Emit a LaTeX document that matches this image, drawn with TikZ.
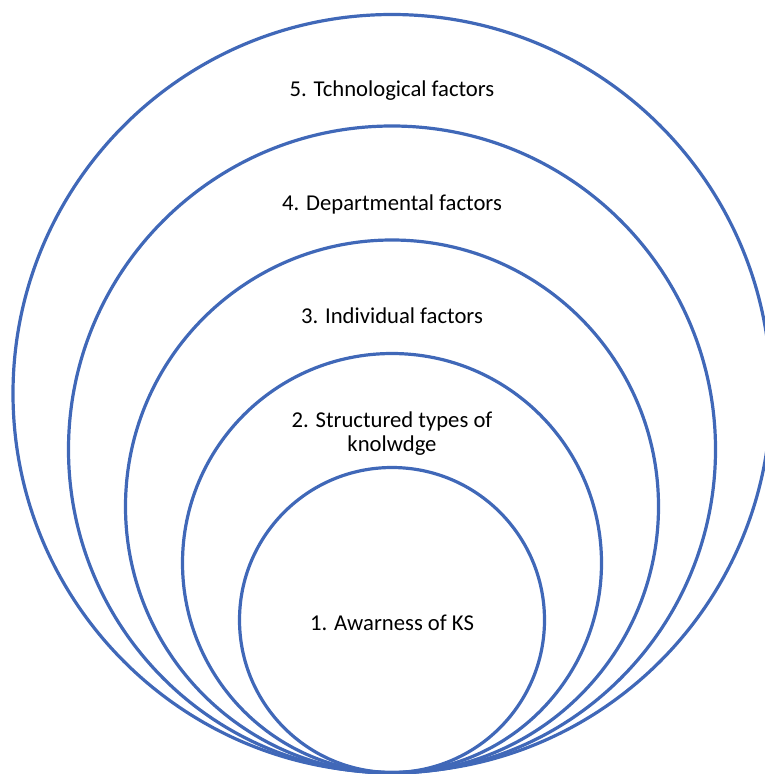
\documentclass[tikz,border=0pt]{standalone}
\usepackage{fontspec}
\setmainfont{Carlito}
\usepackage{tikz}
\usetikzlibrary{positioning,shapes}
\definecolor{ringblue}{RGB}{64,104,184}

\begin{document}
\begin{tikzpicture}[x=0.75pt,y=-0.75pt,font=\fontsize{17}{18}\selectfont]
            \tikzstyle{ring}=[circle, draw=ringblue, line width=2.4pt, inner sep=0pt]
            \tikzstyle{label}=[align=center, text=black]
            \useasboundingbox (0,0) rectangle (764,774);
            \node[ring, minimum size=568.5pt] (tech) at (392,393.5) {};
            \node[ring, minimum size=485.25pt] (dept) at (392,449.5) {};
            \node[ring, minimum size=399.75pt] (indiv) at (392,506.5) {};
            \node[ring, minimum size=314.25pt] (types) at (392,563) {};
            \node[ring, minimum size=228.75pt] (aware) at (392,620) {};
            \node[label] (techtxt) at (392,91) {5. Tchnological factors};
            \node[label] (depttxt) at (392,204) {4. Departmental factors};
            \node[label] (indivtxt) at (392,316) {3. Individual factors};
            \node[label] (typestxt) at (392,434) {2. Structured types of\\knolwdge};
            \node[label] (awaretxt) at (392,623) {1. Awarness of KS};
\end{tikzpicture}
\end{document}
